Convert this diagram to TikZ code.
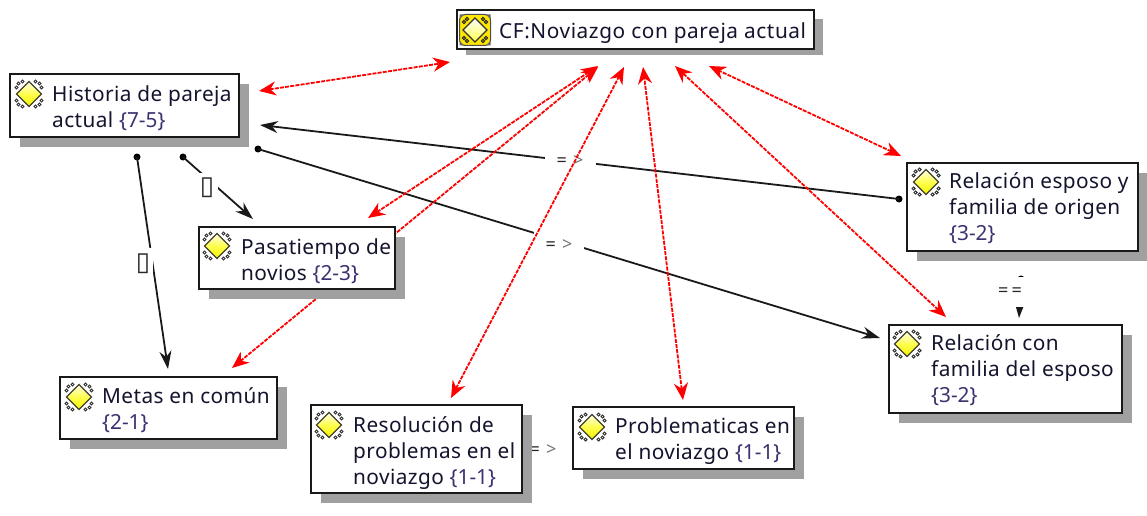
\documentclass[tikz,border=0pt]{standalone}
\usepackage{fontspec}
\setmainfont[LetterSpace=2.0]{Noto Sans}
\newfontfamily\symfont{DejaVu Sans}
\usetikzlibrary{arrows.meta,calc}
\pgfdeclarelayer{background}
\pgfsetlayers{background,main}
\definecolor{txt}{HTML}{14142E}
\definecolor{cnt}{HTML}{3C3070}
\definecolor{shad}{HTML}{A0A0A0}
\newcommand{\cnum}[1]{\textcolor{cnt}{\addfontfeature{LetterSpace=0}#1}}
\newcommand{\impl}{{\bfseries =}\hspace{6pt}\textcolor{black!55}{>}}
\tikzset{
 x=1pt,y=-1pt,
 cbox/.style={draw=black!90,line width=2pt,fill=white,inner sep=0pt},
 ctext/.style={anchor=north west,inner sep=0pt,align=left,text=txt,font=\fontsize{20.8}{26}\selectfont},
 shadowbox/.style={fill=shad,draw=none},
 rededge/.style={draw=red,line width=1.8pt,dash pattern=on 4pt off 1.2pt,{Stealth[length=17pt,width=14pt]}-{Stealth[length=17pt,width=14pt]}},
 blackedge/.style={draw=black!90,line width=1.8pt,-{Stealth[length=18pt,width=12pt]}},
 enddot/.style={circle,fill=black,inner sep=0pt,minimum size=7pt},
 linklabel/.style={fill=white,inner sep=0pt,text=black!85,font=\fontsize{18}{18}\selectfont},
 boxlabel/.style={fill=white,inner sep=0pt,text=black!85,font=\symfont\fontsize{26}{26}\selectfont},
 ico/.pic={
  \foreach \sx in {-1,1}\foreach \sy in {-1,1}{
   \draw[black!80,line width=.9pt] (\sx*12.5,\sy*6.5) circle (1.6) (\sx*6.5,\sy*12.5) circle (1.6) (\sx*10.5,\sy*10.5) circle (1.6);}
  \draw[draw=black!70!olive,line width=1.3pt,top color=yellow!10!white,bottom color=yellow!95!black,middle color=yellow!70!white] (-12.5,0)--(0,-12.5)--(12.5,0)--(0,12.5)--cycle;
 },
 cficon/.pic={
  \fill[rounded corners=6pt,fill=yellow!90!orange,draw=black!70,line width=1pt] (-15.5,-15.5) rectangle (15.5,15.5);
  \foreach \sx in {-1,1}\foreach \sy in {-1,1}{
   \draw[black!85,line width=1pt] (\sx*11,\sy*8) circle (1.6) (\sx*8,\sy*11) circle (1.6);
   \fill[black!60] (\sx*15.5,\sy*15.5)--(\sx*15.5,\sy*11)--(\sx*11,\sy*15.5)--cycle;}
  \draw[draw=black!80,line width=1.2pt,top color=white,bottom color=yellow!70!white] (-12,0)--(0,-12)--(12,0)--(0,12)--cycle;
 },
}
% name, left, top, right, bottom, baseline offset, text x, text
\newcommand{\cbx}[8]{%
 \pgfmathsetmacro{\bw}{#4-#2}\pgfmathsetmacro{\bh}{#5-#3}%
 \pgfmathsetmacro{\cxx}{(#2+#4)/2}\pgfmathsetmacro{\cyy}{(#3+#5)/2}%
 \pgfmathsetmacro{\txy}{#3+#6-18.2}%
 \fill[shadowbox] (#2+10,#3+10) rectangle (#4+10,#5+10);
 \node[cbox,minimum width=\bw pt,minimum height=\bh pt] (#1) at (\cxx,\cyy) {};
 \node[ctext] (#1t) at (#7,\txy) {\strut #8};
}
\begin{document}
\begin{tikzpicture}
\useasboundingbox (0,0) rectangle (1147,516);
\fill[shad] (466,19) rectangle (823,55);
\node[cbox,line width=2.4pt,minimum width=357pt,minimum height=39pt] (cf) at (635.5,29.5) {};
\node[ctext,font=\addfontfeature{LetterSpace=2.8}\fontsize{20.8}{26}\selectfont] (cft) at (499,19.8) {\strut CF:Noviazgo con pareja actual};
\pic at (475,30) {cficon};
\cbx{hist}{10}{74}{239}{137}{27}{52}{Historia de pareja\\actual \cnum{\{7-5\}}}
\pic at (29,94) {ico};
\cbx{pasa}{199}{227}{395}{289}{27}{241}{Pasatiempo de\\novios \cnum{\{2-3\}}}
\pic at (217,246) {ico};
\cbx{meta}{60}{377}{277}{439}{26}{102}{Metas en común\\\cnum{\{2-1\}}}
\pic at (79,397) {ico};
\cbx{reso}{311}{405}{522}{493}{27}{353}{Resolución de\\problemas en el\\noviazgo \cnum{\{1-1\}}}
\pic at (329,425) {ico};
\cbx{prob}{573}{407}{794}{469}{26}{615}{Problematicas en\\el noviazgo \cnum{\{1-1\}}}
\pic at (592,427) {ico};
\cbx{espo}{907}{163}{1138}{251}{25}{949}{Relación esposo y\\familia de origen\\\cnum{\{3-2\}}}
\pic at (926,182) {ico};
\cbx{cone}{889}{325}{1122}{413}{25}{931}{Relación con\\familia del esposo\\\cnum{\{3-2\}}}
\pic at (907,344) {ico};
% connector end coordinates
\coordinate (e1a) at (259,91);  \coordinate (e1b) at (450,62);
\coordinate (e2a) at (368,218); \coordinate (e2b) at (598,66);
\coordinate (e3a) at (232,368); \coordinate (e3b) at (598,67);
\coordinate (e4a) at (451,398); \coordinate (e4b) at (624,67);
\coordinate (e5a) at (683,400); \coordinate (e5b) at (643,67);
\coordinate (e6a) at (946,317); \coordinate (e6b) at (675,66);
\coordinate (e7a) at (901,156); \coordinate (e7b) at (709,66);
\begin{pgfonlayer}{background}
\node[enddot] (d1) at (899,199) {};
\node[enddot] (d2) at (258,149) {};
\node[enddot] (d3) at (137,157) {};
\node[enddot] (d4) at (183,157) {};
\node[enddot] (d5) at (1021,279) {};
\coordinate (b1) at (260,125);
\coordinate (b2) at (880,338);
\coordinate (b3) at (168,369);
\coordinate (b4) at (253,219);
\coordinate (b5) at (1019,318);
\draw[blackedge] (d1.center) -- (b1);
\draw[blackedge] (d2.center) -- (b2);
\draw[blackedge] (d3.center) -- (b3);
\draw[blackedge] (d4.center) -- (b4);
\draw[blackedge] (d5.center) -- (b5);
\node[linklabel,minimum width=51pt,minimum height=24pt] (l1) at (570,161) {\impl};
\node[linklabel,minimum width=50pt,minimum height=32pt] (l2) at (559,245) {\impl};
\node[linklabel,minimum width=40pt,minimum height=30pt] (l3) at (1010,292) {{\bfseries =\,=}};
\node[boxlabel,minimum width=20pt,minimum height=32pt] (l4) at (143,264) {▯};
\node[boxlabel,minimum width=22pt,minimum height=30pt] (l5) at (207,188) {▯};
\node[linklabel] (l6) at (543,450) {\impl};
\draw[rededge] (e1a) -- (e1b);
\draw[rededge] (e2a) -- (e2b);
\draw[rededge] (e3a) -- (e3b);
\draw[rededge] (e4a) -- (e4b);
\draw[rededge] (e5a) -- (e5b);
\draw[rededge] (e6a) -- (e6b);
\draw[rededge] (e7a) -- (e7b);
\end{pgfonlayer}
\end{tikzpicture}
\end{document}
